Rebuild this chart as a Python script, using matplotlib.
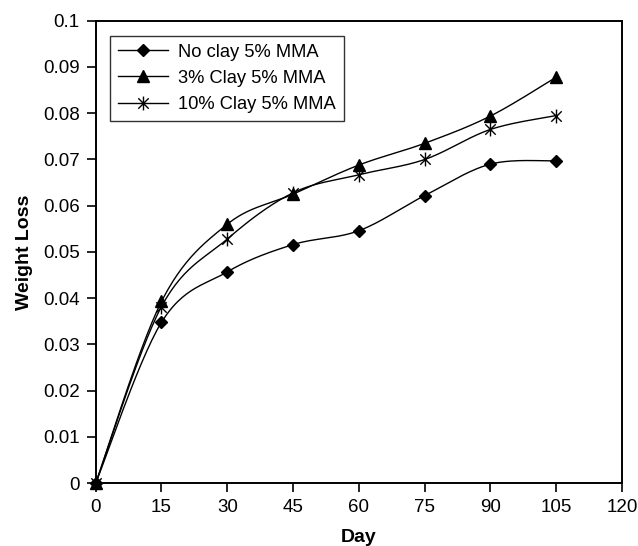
import numpy as np
import matplotlib
matplotlib.use('Agg')
import matplotlib.pyplot as plt
from matplotlib.path import Path

plt.rcParams['font.family'] = ['Liberation Sans', 'DejaVu Sans']

# data
days = [0, 15, 30, 45, 60, 75, 90, 105]
no_clay = [0, 0.0348, 0.0457, 0.0516, 0.0546, 0.0622, 0.0690, 0.0697]
clay3 = [0, 0.0393, 0.0560, 0.0625, 0.0688, 0.0735, 0.0794, 0.0878]
clay10 = [0, 0.0382, 0.0528, 0.0628, 0.0667, 0.0700, 0.0765, 0.0795]
labels = ['No clay 5% MMA', '3% Clay 5% MMA', '10% Clay 5% MMA']


def smooth(x, y, n=30):
    # Excel-like smoothed line (cardinal bezier through the points)
    x = np.asarray(x, float)
    y = np.asarray(y, float)
    xs, ys = [x[0]], [y[0]]
    t = np.linspace(0, 1, n)[1:]
    for i in range(len(x) - 1):
        i0 = max(i - 1, 0)
        i3 = min(i + 2, len(x) - 1)
        c1 = (x[i] + (x[i + 1] - x[i0]) / 6, y[i] + (y[i + 1] - y[i0]) / 6)
        c2 = (x[i + 1] - (x[i3] - x[i]) / 6, y[i + 1] - (y[i3] - y[i]) / 6)
        bx = (1 - t)**3 * x[i] + 3 * (1 - t)**2 * t * c1[0] + 3 * (1 - t) * t**2 * c2[0] + t**3 * x[i + 1]
        by = (1 - t)**3 * y[i] + 3 * (1 - t)**2 * t * c1[1] + 3 * (1 - t) * t**2 * c2[1] + t**3 * y[i + 1]
        xs.extend(bx)
        ys.extend(by)
    return xs, ys


# asterisk marker: vertical bar plus an X
star = Path([(0, -1), (0, 1), (-0.75, -0.75), (0.75, 0.75), (-0.75, 0.75), (0.75, -0.75)],
            [Path.MOVETO, Path.LINETO, Path.MOVETO, Path.LINETO, Path.MOVETO, Path.LINETO])

fig = plt.figure(figsize=(6.38, 5.46), dpi=100)
ax = fig.add_axes([0.150, 0.115, 0.825, 0.847])

series = [(no_clay, 'D', 6.2), (clay3, '^', 8.5), (clay10, star, 10)]
for (vals, mk, ms), lab in zip(series, labels):
    sx, sy = smooth(days, vals)
    ax.plot(sx, sy, color='black', lw=1.0, clip_on=False)
    ax.plot(days, vals, linestyle='none', marker=mk, ms=ms, color='black',
            mec='black', mew=1.0, clip_on=False)
    ax.plot([], [], color='black', lw=1.0, marker=mk, ms=ms, mec='black', mew=1.0, label=lab)

ax.set_xlim(0, 120)
ax.set_ylim(0, 0.1)
ax.set_xticks(range(0, 121, 15))
ax.set_yticks(np.arange(0, 0.1001, 0.01))
ax.set_yticklabels(['0', '0.01', '0.02', '0.03', '0.04', '0.05', '0.06', '0.07', '0.08', '0.09', '0.1'])
ax.tick_params(direction='out', length=6.5, width=1.2, labelsize=13.5, pad=5, colors='black')
for s in ax.spines.values():
    s.set_linewidth(1.4)

ax.set_xlabel('Day', fontsize=14, fontweight='bold', labelpad=9)
ax.set_ylabel('Weight Loss', fontsize=14, fontweight='bold', labelpad=7)

leg = ax.legend(loc='upper left', bbox_to_anchor=(0.027, 0.967), borderaxespad=0,
                fontsize=13.2, frameon=True, fancybox=False, edgecolor='black',
                handlelength=2.75, borderpad=0.42, labelspacing=0.5, handletextpad=0.55)
leg.get_frame().set_linewidth(1.0)

plt.savefig('out.png', dpi=100)
